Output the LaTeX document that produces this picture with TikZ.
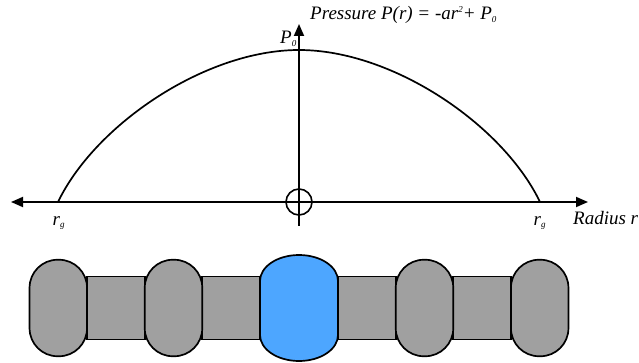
\documentclass[tikz,border=0pt]{standalone}
\usepackage{fontspec}
\setmainfont{Liberation Serif}
\usetikzlibrary{arrows.meta}
\definecolor{pillgray}{RGB}{160,160,160}
\definecolor{coreblue}{RGB}{77,166,255}
\newcommand{\lowtxt}[1]{\raisebox{-2.5pt}{\fontsize{9}{9}\selectfont #1}}
\newcommand{\hightxt}[1]{\raisebox{7pt}{\fontsize{9}{9}\selectfont #1}}
\tikzset{
  axisline/.style={line width=1.8pt,-{Triangle[length=12pt,width=10pt]}},
  curveline/.style={line width=1.7pt},
  neck/.style={draw=black,fill=pillgray,line width=1.7pt,rectangle,minimum width=58pt,minimum height=63pt,inner sep=0pt},
  pill/.style={draw=black,fill=pillgray,line width=1.7pt,rectangle,rounded corners=28pt,minimum width=57.5pt,minimum height=96.5pt,inner sep=0pt},
  lbl/.style={inner sep=0pt,font=\fontsize{19}{19}\selectfont\itshape}
}
\begin{document}
\begin{tikzpicture}[x=1pt,y=-1pt]
\useasboundingbox (0,0) rectangle (639,363);
% axes
\coordinate (leftend) at (11,202);
\coordinate (rightend) at (588,202);
\coordinate (bottomend) at (299,226);
\coordinate (topend) at (299,24);
\coordinate (rgl) at (58,202);
\coordinate (rgr) at (540,202);
\coordinate (apex) at (299,50);
\draw[curveline] (rgl) .. controls (95,125) and (205,50) .. (apex)
                       .. controls (393,50) and (503,125) .. (rgr);
\draw[axisline] (bottomend) -- (topend);
\draw[axisline] (apex |- rightend) -- (leftend);
\draw[axisline] (apex |- rightend) -- (rightend);
\node[draw=black,circle,line width=1.6pt,minimum size=26pt,inner sep=0pt] (origin) at (299,202) {};
% labels
\node[lbl,anchor=base west] (ptitle) at (310,20) {Pressure P(r) = -ar\hightxt{2}+ P\lowtxt{0}};
\node[lbl,anchor=base west] (pzero) at (280,44) {P\lowtxt{0}};
\node[lbl,anchor=base west] (rleft) at (52.5,225.5) {r\lowtxt{g}};
\node[lbl,anchor=base west] (rright) at (533.5,225.5) {r\lowtxt{g}};
\node[lbl,anchor=base west] (radius) at (573,225) {Radius r};
% stack
\node[neck] (n1) at (116,308) {};
\node[neck] (n2) at (231,308) {};
\node[neck] (n3) at (367,308) {};
\node[neck] (n4) at (482,308) {};
\node[pill] (p1) at (58.3,308) {};
\node[pill] (p2) at (173.5,308) {};
\node[pill] (p4) at (424.5,308) {};
\node[pill] (p5) at (539.7,308) {};
\draw[fill=coreblue,line width=1.7pt] (260,281) arc[start angle=180,end angle=360,x radius=39,y radius=26]
  -- (338,335) arc[start angle=0,end angle=180,x radius=39,y radius=26] -- cycle;
\end{tikzpicture}
\end{document}
